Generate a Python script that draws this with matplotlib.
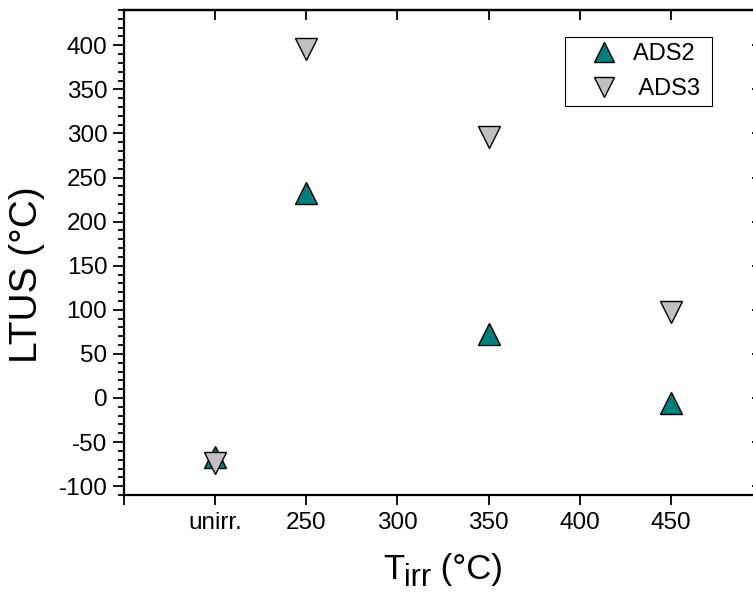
import matplotlib
matplotlib.use("Agg")
import matplotlib.pyplot as plt
from matplotlib.ticker import MultipleLocator, FixedLocator

plt.rcParams['font.family'] = ['Liberation Sans', 'DejaVu Sans']
plt.rcParams['axes.unicode_minus'] = False

# Irradiation temperature (°C); the unirradiated sample sits at the 200 slot
x_ads2 = [200, 250, 350, 450]
y_ads2 = [-67, 232, 73, -6]
x_ads3 = [200, 250, 350, 450]
y_ads3 = [-74, 396, 296, 98]

xtick_pos = [150, 200, 250, 300, 350, 400, 450, 500]
xtick_labels = ["", "unirr.", "250", "300", "350", "400", "450", ""]
ytick_pos = [-100, -50, 0, 50, 100, 150, 200, 250, 300, 350, 400]

W, H, DPI = 753, 593, 100
fig = plt.figure(figsize=(W / DPI, H / DPI), dpi=DPI)
ax = fig.add_axes([124 / W, 98 / H, 638 / W, 485 / H])

ax.plot(x_ads2, y_ads2, linestyle='none', marker='^', markersize=15.5,
        markerfacecolor='#007f7f', markeredgecolor='black', markeredgewidth=1.0,
        label='ADS2 ', zorder=3)
ax.plot(x_ads3, y_ads3, linestyle='none', marker='v', markersize=15.5,
        markerfacecolor='#c0c0c0', markeredgecolor='black', markeredgewidth=1.0,
        label=' ADS3 ', zorder=4)

ax.set_xlim(150, 500)
ax.set_ylim(-110, 440)

ax.xaxis.set_major_locator(FixedLocator(xtick_pos))
ax.set_xticklabels(xtick_labels)
ax.yaxis.set_major_locator(FixedLocator(ytick_pos))
ax.yaxis.set_minor_locator(MultipleLocator(10))

for sp in ax.spines.values():
    sp.set_linewidth(1.6)

# bottom ticks outward, top ticks inward
ax.tick_params(axis='x', which='major', bottom=True, top=False, direction='out',
               length=7.5, width=1.3, labelsize=17.5, pad=5)
sec_x = ax.secondary_xaxis('top')
sec_x.xaxis.set_major_locator(FixedLocator(xtick_pos))
sec_x.tick_params(axis='x', direction='in', length=7.5, width=1.3, labeltop=False)
sec_x.spines['top'].set_linewidth(1.6)

# left ticks outward, right ticks inward
ax.tick_params(axis='y', which='major', left=True, right=False, direction='out',
               length=8, width=1.3, labelsize=17.5, pad=4)
ax.tick_params(axis='y', which='minor', left=True, right=False, direction='out',
               length=4.5, width=1.3)
sec_y = ax.secondary_yaxis('right')
sec_y.yaxis.set_major_locator(FixedLocator(ytick_pos))
sec_y.tick_params(axis='y', direction='in', length=7.5, width=1.3, labelright=False)
sec_y.spines['right'].set_linewidth(1.6)

ax.set_ylabel('LTUS (°C)', fontsize=28)
ax.yaxis.set_label_coords(-0.124, 0.454)

# x-axis title built from pieces so the subscript keeps a large size
renderer = fig.canvas.get_renderer()
pieces = [("T", 25, 0), ("irr", 22, -7), (" (°C)", 25, 0)]
texts = []
for s, size, dy in pieces:
    t = fig.text(0, 0, s, fontsize=size, va='baseline', ha='left', transform=None)
    texts.append((t, dy))
widths = [t.get_window_extent(renderer).width for t, _ in texts]
x_cur = (124 + 762) / 2 - sum(widths) / 2
base_y = H - 579
for (t, dy), w in zip(texts, widths):
    t.set_position((x_cur, base_y + dy))
    x_cur += w

leg = ax.legend(loc='upper right', bbox_to_anchor=(0.922, 0.944), borderaxespad=0,
                fontsize=17, frameon=True, fancybox=False, edgecolor='black',
                framealpha=1, handletextpad=-0.2, borderpad=0.25,
                labelspacing=0.55, handlelength=2.8, markerscale=0.95)
leg.get_frame().set_linewidth(0.8)

fig.savefig('out.png', dpi=DPI)
